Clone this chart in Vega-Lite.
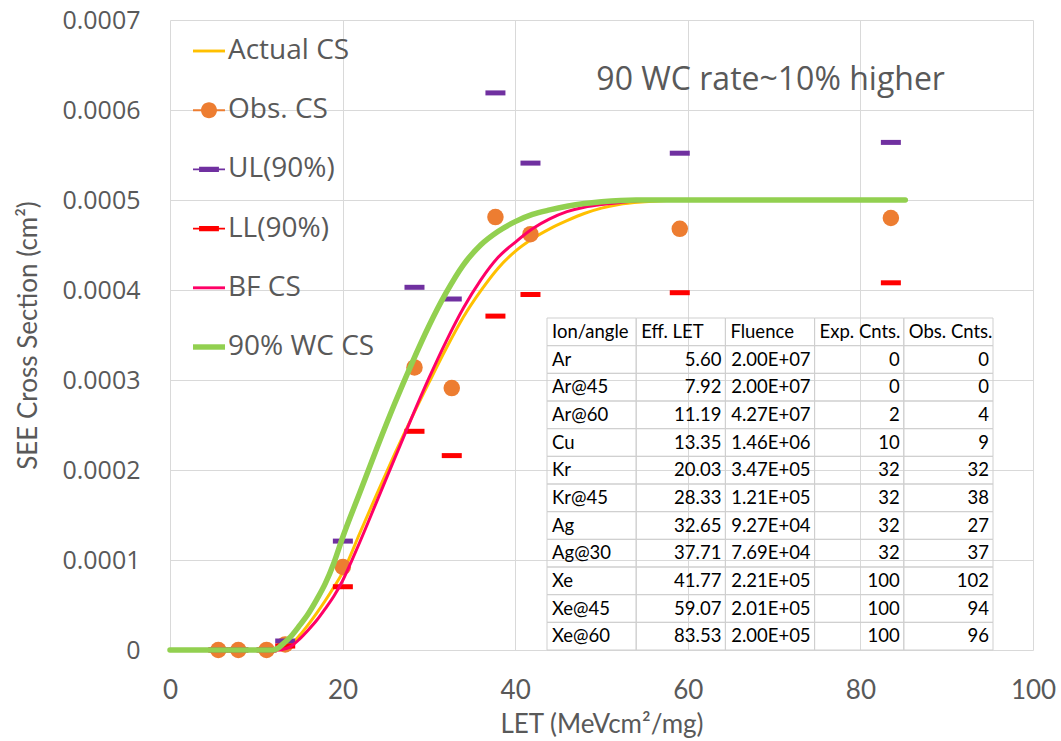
{
  "$schema": "https://vega.github.io/schema/vega-lite/v6.json",
  "width": 863,
  "height": 630,
  "autosize": {"type": "none"},
  "padding": {"left": 170, "top": 20, "right": 28, "bottom": 91},
  "background": "white",
  "config": {"view": {"stroke": null}, "font": "Open Sans"},
  "datasets": {
    "curves": [
      {"s": "Actual CS", "let": 0, "cs": 0}, {"s": "Actual CS", "let": 12.4, "cs": 0}, {"s": "Actual CS", "let": 13, "cs": 0.000001}, {"s": "Actual CS", "let": 14, "cs": 0.000006}, {"s": "Actual CS", "let": 15, "cs": 0.000016}, {"s": "Actual CS", "let": 16, "cs": 0.000028}, {"s": "Actual CS", "let": 17, "cs": 0.000041}, {"s": "Actual CS", "let": 18, "cs": 0.000055}, {"s": "Actual CS", "let": 19, "cs": 0.00007}, {"s": "Actual CS", "let": 20, "cs": 0.000086}, {"s": "Actual CS", "let": 22, "cs": 0.00013}, {"s": "Actual CS", "let": 24, "cs": 0.000174}, {"s": "Actual CS", "let": 26, "cs": 0.000217}, {"s": "Actual CS", "let": 28, "cs": 0.000258}, {"s": "Actual CS", "let": 30, "cs": 0.000297}, {"s": "Actual CS", "let": 32, "cs": 0.000335}, {"s": "Actual CS", "let": 34, "cs": 0.00037}, {"s": "Actual CS", "let": 36, "cs": 0.000399}, {"s": "Actual CS", "let": 38, "cs": 0.000424}, {"s": "Actual CS", "let": 40, "cs": 0.000443}, {"s": "Actual CS", "let": 42, "cs": 0.000457}, {"s": "Actual CS", "let": 44, "cs": 0.000468}, {"s": "Actual CS", "let": 46, "cs": 0.000477}, {"s": "Actual CS", "let": 48, "cs": 0.000485}, {"s": "Actual CS", "let": 50, "cs": 0.000491}, {"s": "Actual CS", "let": 52, "cs": 0.000495}, {"s": "Actual CS", "let": 55, "cs": 0.000498}, {"s": "Actual CS", "let": 60, "cs": 0.0005}, {"s": "Actual CS", "let": 85.2, "cs": 0.0005},
      {"s": "BF CS", "let": 0, "cs": 0}, {"s": "BF CS", "let": 12.7, "cs": 0}, {"s": "BF CS", "let": 13, "cs": 0.0000005}, {"s": "BF CS", "let": 14, "cs": 0.000004}, {"s": "BF CS", "let": 15, "cs": 0.000012}, {"s": "BF CS", "let": 16, "cs": 0.000022}, {"s": "BF CS", "let": 17, "cs": 0.000033}, {"s": "BF CS", "let": 18, "cs": 0.000046}, {"s": "BF CS", "let": 19, "cs": 0.00006}, {"s": "BF CS", "let": 20, "cs": 0.000077}, {"s": "BF CS", "let": 21, "cs": 0.000098}, {"s": "BF CS", "let": 22, "cs": 0.00012}, {"s": "BF CS", "let": 24, "cs": 0.000166}, {"s": "BF CS", "let": 26, "cs": 0.000212}, {"s": "BF CS", "let": 28, "cs": 0.000258}, {"s": "BF CS", "let": 30, "cs": 0.000302}, {"s": "BF CS", "let": 32, "cs": 0.000343}, {"s": "BF CS", "let": 34, "cs": 0.00038}, {"s": "BF CS", "let": 36, "cs": 0.000411}, {"s": "BF CS", "let": 38, "cs": 0.000436}, {"s": "BF CS", "let": 40, "cs": 0.000453}, {"s": "BF CS", "let": 42, "cs": 0.000468}, {"s": "BF CS", "let": 44, "cs": 0.000479}, {"s": "BF CS", "let": 46, "cs": 0.000487}, {"s": "BF CS", "let": 48, "cs": 0.000492}, {"s": "BF CS", "let": 50, "cs": 0.000495}, {"s": "BF CS", "let": 52, "cs": 0.000497}, {"s": "BF CS", "let": 56, "cs": 0.0005}, {"s": "BF CS", "let": 60, "cs": 0.0005}, {"s": "BF CS", "let": 85.2, "cs": 0.0005},
      {"s": "90% WC CS", "let": 0, "cs": 0}, {"s": "90% WC CS", "let": 11.9, "cs": 0}, {"s": "90% WC CS", "let": 12.5, "cs": 0.000002}, {"s": "90% WC CS", "let": 13, "cs": 0.000006}, {"s": "90% WC CS", "let": 14, "cs": 0.000015}, {"s": "90% WC CS", "let": 15, "cs": 0.000027}, {"s": "90% WC CS", "let": 16, "cs": 0.00004}, {"s": "90% WC CS", "let": 17, "cs": 0.000056}, {"s": "90% WC CS", "let": 18, "cs": 0.000074}, {"s": "90% WC CS", "let": 19, "cs": 0.000097}, {"s": "90% WC CS", "let": 20, "cs": 0.000125}, {"s": "90% WC CS", "let": 22, "cs": 0.000175}, {"s": "90% WC CS", "let": 24, "cs": 0.000225}, {"s": "90% WC CS", "let": 26, "cs": 0.000273}, {"s": "90% WC CS", "let": 28, "cs": 0.000318}, {"s": "90% WC CS", "let": 30, "cs": 0.00036}, {"s": "90% WC CS", "let": 32, "cs": 0.000397}, {"s": "90% WC CS", "let": 34, "cs": 0.000428}, {"s": "90% WC CS", "let": 36, "cs": 0.00045}, {"s": "90% WC CS", "let": 38, "cs": 0.000465}, {"s": "90% WC CS", "let": 40, "cs": 0.000476}, {"s": "90% WC CS", "let": 42, "cs": 0.000484}, {"s": "90% WC CS", "let": 44, "cs": 0.000489}, {"s": "90% WC CS", "let": 46, "cs": 0.000493}, {"s": "90% WC CS", "let": 48, "cs": 0.000496}, {"s": "90% WC CS", "let": 50, "cs": 0.000498}, {"s": "90% WC CS", "let": 54, "cs": 0.0005}, {"s": "90% WC CS", "let": 85.2, "cs": 0.0005}
    ],
    "points": [
      {"ion": "Ar", "let": 5.60, "cs": 0, "ul": 0.00000012, "ll": 0},
      {"ion": "Ar@45", "let": 7.92, "cs": 0, "ul": 0.00000012, "ll": 0},
      {"ion": "Ar@60", "let": 11.19, "cs": 0.0000001, "ul": 0.0000002, "ll": 0.00000003},
      {"ion": "Cu", "let": 13.35, "cs": 0.0000062, "ul": 0.00001, "ll": 0.0000044},
      {"ion": "Kr", "let": 20.03, "cs": 0.0000922, "ul": 0.000121, "ll": 0.0000703},
      {"ion": "Kr@45", "let": 28.33, "cs": 0.000314, "ul": 0.000403, "ll": 0.000243},
      {"ion": "Ag", "let": 32.65, "cs": 0.000291, "ul": 0.00039, "ll": 0.000216},
      {"ion": "Ag@30", "let": 37.71, "cs": 0.000481, "ul": 0.000619, "ll": 0.000371},
      {"ion": "Xe", "let": 41.77, "cs": 0.000462, "ul": 0.000541, "ll": 0.000395},
      {"ion": "Xe@45", "let": 59.07, "cs": 0.000468, "ul": 0.000552, "ll": 0.000397},
      {"ion": "Xe@60", "let": 83.53, "cs": 0.00048, "ul": 0.000564, "ll": 0.000408}
    ],
    "table": [
      {"ion": "Ion/angle", "let": "Eff. LET", "flu": "Fluence", "exp": "Exp. Cnts.", "obs": "Obs. Cnts."},
      {"ion": "Ar", "let": "5.60", "flu": "2.00E+07", "exp": "0", "obs": "0"},
      {"ion": "Ar@45", "let": "7.92", "flu": "2.00E+07", "exp": "0", "obs": "0"},
      {"ion": "Ar@60", "let": "11.19", "flu": "4.27E+07", "exp": "2", "obs": "4"},
      {"ion": "Cu", "let": "13.35", "flu": "1.46E+06", "exp": "10", "obs": "9"},
      {"ion": "Kr", "let": "20.03", "flu": "3.47E+05", "exp": "32", "obs": "32"},
      {"ion": "Kr@45", "let": "28.33", "flu": "1.21E+05", "exp": "32", "obs": "38"},
      {"ion": "Ag", "let": "32.65", "flu": "9.27E+04", "exp": "32", "obs": "27"},
      {"ion": "Ag@30", "let": "37.71", "flu": "7.69E+04", "exp": "32", "obs": "37"},
      {"ion": "Xe", "let": "41.77", "flu": "2.21E+05", "exp": "100", "obs": "102"},
      {"ion": "Xe@45", "let": "59.07", "flu": "2.01E+05", "exp": "100", "obs": "94"},
      {"ion": "Xe@60", "let": "83.53", "flu": "2.00E+05", "exp": "100", "obs": "96"}
    ],
    "note": [
      {"label": "90 WC rate~10% higher", "let": 69.6, "cs": 0.000633}
    ]
  },
  "layer": [
    {
      "layer": [
        {
          "data": {"name": "curves"},
          "transform": [{"filter": "datum.s == 'Actual CS'"}],
          "mark": {"type": "line", "color": "#FFC000", "strokeWidth": 3, "interpolate": "monotone"},
          "encoding": {
            "x": {"field": "let", "type": "quantitative", "scale": {"domain": [0, 100], "nice": false, "zero": false},
              "axis": {"values": [0, 20, 40, 60, 80, 100], "grid": true, "gridColor": "#d9d9d9", "gridWidth": 1, "domain": false, "ticks": false, "labelFont": "Lato", "labelFontSize": 26, "labelColor": "#595959", "labelPadding": 27, "labelFlush": false, "labelOverlap": false, "title": "LET (MeVcm²/mg)", "titleFont": "Lato", "titleFontSize": 26, "titleFontWeight": "normal", "titleColor": "#595959", "titlePadding": 8}},
            "y": {"field": "cs", "type": "quantitative", "scale": {"domain": [0, 0.0007], "nice": false},
              "axis": {"values": [0, 0.0001, 0.0002, 0.0003, 0.0004, 0.0005, 0.0006, 0.0007], "format": ".4~f", "grid": true, "gridColor": "#d9d9d9", "gridWidth": 1, "domain": false, "ticks": false, "labelFont": "Open Sans", "labelFontSize": 25, "labelColor": "#595959", "labelPadding": 30, "labelOverlap": false, "title": "SEE Cross Section (cm²)", "titleFont": "Lato", "titleFontSize": 26, "titleFontWeight": "normal", "titleColor": "#595959", "titlePadding": 20}}
          }
        },
        {
          "data": {"name": "points"},
          "mark": {"type": "point", "filled": true, "opacity": 1, "color": "#ED7D31", "size": 272},
          "encoding": {
            "x": {"field": "let", "type": "quantitative"},
            "y": {"field": "cs", "type": "quantitative"}
          }
        },
        {
          "data": {"name": "points"},
          "mark": {"type": "tick", "orient": "horizontal", "opacity": 1, "color": "#7030A0", "size": 20, "thickness": 5},
          "encoding": {
            "x": {"field": "let", "type": "quantitative"},
            "y": {"field": "ul", "type": "quantitative"}
          }
        },
        {
          "data": {"name": "points"},
          "mark": {"type": "tick", "orient": "horizontal", "opacity": 1, "color": "#FF0000", "size": 20, "thickness": 5},
          "encoding": {
            "x": {"field": "let", "type": "quantitative"},
            "y": {"field": "ll", "type": "quantitative"}
          }
        },
        {
          "data": {"name": "curves"},
          "transform": [{"filter": "datum.s == 'BF CS'"}],
          "mark": {"type": "line", "color": "#FF0066", "strokeWidth": 3, "interpolate": "monotone"},
          "encoding": {
            "x": {"field": "let", "type": "quantitative"},
            "y": {"field": "cs", "type": "quantitative"}
          }
        },
        {
          "data": {"name": "curves"},
          "transform": [{"filter": "datum.s == '90% WC CS'"}],
          "mark": {"type": "line", "color": "#92D050", "strokeWidth": 5.5, "interpolate": "monotone", "strokeCap": "round"},
          "encoding": {
            "x": {"field": "let", "type": "quantitative"},
            "y": {"field": "cs", "type": "quantitative"}
          }
        },
        {
          "data": {"name": "note"},
          "mark": {"type": "text", "font": "Open Sans", "fontSize": 32, "color": "#595959", "align": "center", "baseline": "middle"},
          "encoding": {
            "x": {"field": "let", "type": "quantitative"},
            "y": {"field": "cs", "type": "quantitative"},
            "text": {"field": "label"}
          }
        },
        {
          "data": {"values": []},
          "mark": {"type": "point", "filled": true, "opacity": 1},
          "encoding": {
            "color": {"field": "s", "type": "nominal",
              "scale": {"domain": ["Actual CS", "Obs. CS", "UL(90%)", "LL(90%)", "BF CS", "90% WC CS"], "range": ["#FFC000", "#ED7D31", "#7030A0", "#FF0000", "#FF0066", "#92D050"]},
              "legend": {"orient": "none", "legendX": 23, "legendY": 15, "title": null, "labelFont": "Open Sans", "labelFontSize": 28, "labelColor": "#595959", "symbolSize": 1024, "rowPadding": 29.2, "labelOffset": 3, "symbolStrokeWidth": 0, "symbolOpacity": 1, "padding": 0}},
            "shape": {"field": "s", "type": "nominal",
              "scale": {"domain": ["Actual CS", "Obs. CS", "UL(90%)", "LL(90%)", "BF CS", "90% WC CS"], "range": ["M-1,-0.09H1V0.09H-1Z", "M-1,-0.06H1V0.06H-1Z M0.5,0 A0.5,0.5 0 1 1 -0.5,0 A0.5,0.5 0 1 1 0.5,0 Z", "M-1,-0.06H1V0.06H-1Z M-0.62,-0.16H0.62V0.16H-0.62Z", "M-1,-0.06H1V0.06H-1Z M-0.62,-0.16H0.62V0.16H-0.62Z", "M-1,-0.09H1V0.09H-1Z", "M-1,-0.17H1V0.17H-1Z"]},
              "legend": {"orient": "none", "legendX": 23, "legendY": 15, "title": null, "labelFont": "Open Sans", "labelFontSize": 28, "labelColor": "#595959", "symbolSize": 1024, "rowPadding": 29.2, "labelOffset": 3, "symbolStrokeWidth": 0, "symbolOpacity": 1, "padding": 0}}
          }
        }
      ]
    },
    {
      "data": {"name": "table"},
      "transform": [{"fold": ["ion", "let", "flu", "exp", "obs"], "as": ["col", "val"]}],
      "layer": [
        {
          "mark": {"type": "rect", "filled": false, "stroke": "#cfcfcf", "strokeWidth": 1},
          "encoding": {
            "x": {"field": "col", "type": "nominal", "scale": {"type": "band", "domain": ["ion", "let", "flu", "exp", "obs"], "range": [377, 823], "paddingInner": 0, "paddingOuter": 0}, "axis": null},
            "y": {"field": "ion", "type": "nominal", "scale": {"type": "band", "domain": ["Ion/angle", "Ar", "Ar@45", "Ar@60", "Cu", "Kr", "Kr@45", "Ag", "Ag@30", "Xe", "Xe@45", "Xe@60"], "range": [298, 630], "paddingInner": 0, "paddingOuter": 0}, "axis": null}
          }
        },
        {
          "transform": [{"filter": "datum.ion == 'Ion/angle' || datum.col == 'ion'"}],
          "mark": {"type": "text", "align": "left", "baseline": "middle", "dx": 5, "font": "Lato", "fontSize": 18.5, "color": "#000000"},
          "encoding": {
            "x": {"field": "col", "type": "nominal", "bandPosition": 0, "axis": null},
            "y": {"field": "ion", "type": "nominal", "axis": null},
            "text": {"field": "val"}
          }
        },
        {
          "transform": [{"filter": "datum.ion != 'Ion/angle' && datum.col != 'ion'"}],
          "mark": {"type": "text", "align": "right", "baseline": "middle", "dx": -4, "font": "Lato", "fontSize": 18.5, "color": "#000000"},
          "encoding": {
            "x": {"field": "col", "type": "nominal", "bandPosition": 1, "axis": null},
            "y": {"field": "ion", "type": "nominal", "axis": null},
            "text": {"field": "val"}
          }
        }
      ]
    }
  ],
  "resolve": {"scale": {"x": "independent", "y": "independent"}}
}
